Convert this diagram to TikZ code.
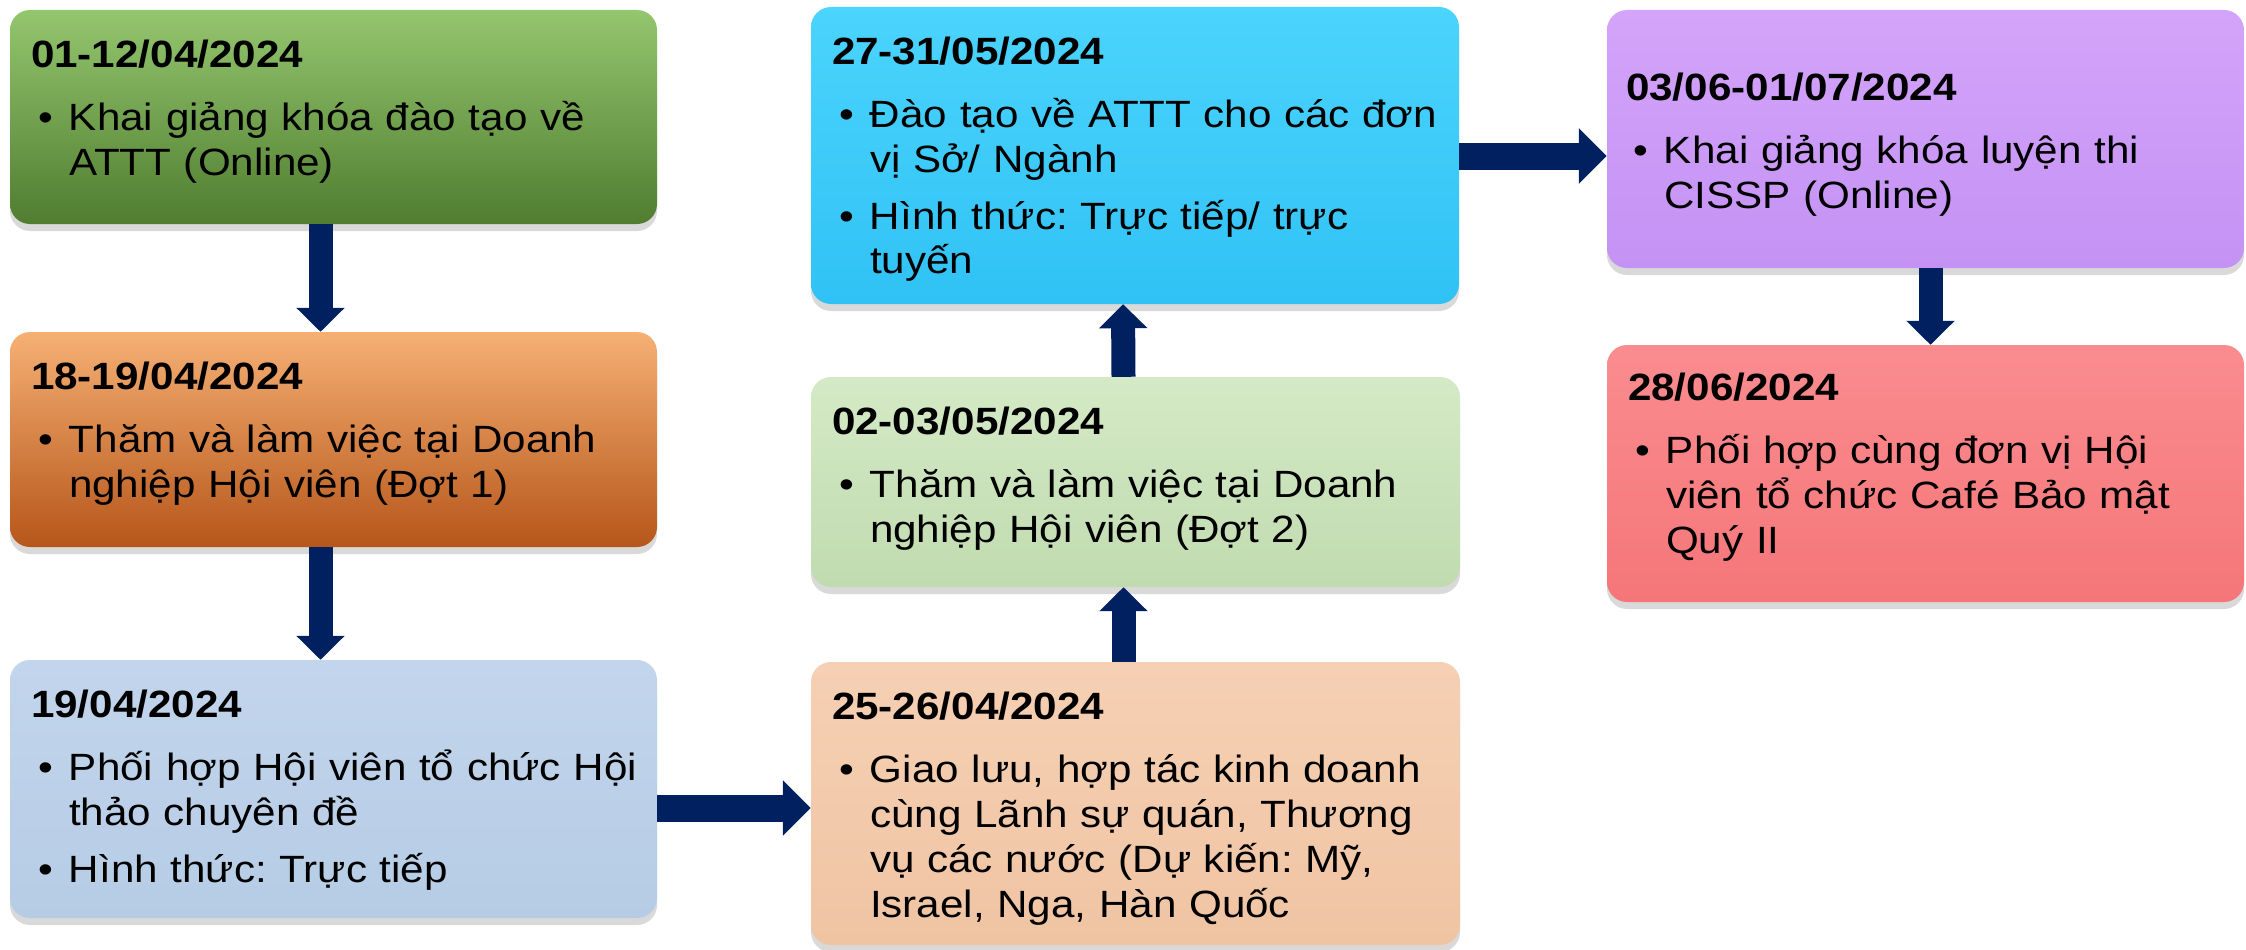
\documentclass[tikz,border=0pt]{standalone}
\usepackage{fontspec}
\setmainfont{Liberation Sans}[FakeStretch=1.11]
\usetikzlibrary{arrows.meta,shadows}

\definecolor{navy}{RGB}{0,32,96}
\definecolor{grnT}{RGB}{148,198,110}
\definecolor{grnM}{RGB}{110,162,68}
\definecolor{grnB}{RGB}{80,125,48}
\definecolor{orgT}{RGB}{246,176,116}
\definecolor{orgM}{RGB}{232,126,55}
\definecolor{orgB}{RGB}{182,86,26}
\definecolor{bluT}{RGB}{194,213,236}
\definecolor{bluB}{RGB}{182,204,229}
\definecolor{pchT}{RGB}{246,208,180}
\definecolor{pchB}{RGB}{239,196,163}
\definecolor{lgrT}{RGB}{212,234,198}
\definecolor{lgrB}{RGB}{193,219,176}
\definecolor{cyaT}{RGB}{75,212,252}
\definecolor{cyaB}{RGB}{48,194,245}
\definecolor{purT}{RGB}{212,164,250}
\definecolor{purB}{RGB}{196,146,244}
\definecolor{redT}{RGB}{250,140,143}
\definecolor{redB}{RGB}{245,118,121}

\newcommand{\body}{\fontsize{38}{45}\selectfont\raggedright\frenchspacing\lineskiplimit=-100pt}
\newcommand{\ttl}[1]{{\fontsize{38}{45}\selectfont\bfseries\rule{0pt}{40pt}#1\par}\vspace{6pt}}
\newcommand{\bul}{\par\vspace{12pt}\hangindent=38pt\hangafter=1\noindent\hspace*{7pt}\makebox[31pt][l]{\textbullet}}

\begin{document}
\begin{tikzpicture}[x=1pt,y=-1pt]
\tikzstyle{box} = [rectangle,rounded corners=20pt,inner sep=0pt,
  drop shadow={shadow xshift=0pt,shadow yshift=-7pt,opacity=0.3,fill=gray}]
\tikzstyle{txt} = [anchor=north west,inner sep=0pt,text width=640pt,font=\body]
\tikzstyle{arr} = [draw=navy,line width=24pt,-{Triangle[width=47pt,length=24pt]}]
\tikzstyle{harr} = [draw=navy,line width=27pt,-{Triangle[width=54pt,length=28pt]}]
\useasboundingbox (0,0) rectangle (2246,950);

%%%%%% Cot 1
\node[box,minimum width=647pt,minimum height=214pt,top color=grnT,middle color=grnM,bottom color=grnB] (A) at (333.5,117) {};
\node[txt] (tA) at ([xshift=21pt,yshift=-17pt]A.north west) {\ttl{01-12/04/2024}%
\bul Khai giảng khóa đào tạo về\newline ATTT (Online)\par};

\node[box,minimum width=647pt,minimum height=215pt,top color=orgT,middle color=orgM,bottom color=orgB] (B) at (333.5,439.5) {};
\node[txt] (tB) at ([xshift=21pt,yshift=-17pt]B.north west) {\ttl{18-19/04/2024}%
\bul Thăm và làm việc tại Doanh\newline nghiệp Hội viên (Đợt 1)\par};

\node[box,minimum width=647pt,minimum height=258pt,top color=bluT,bottom color=bluB] (C) at (333.5,789) {};
\node[txt] (tC) at ([xshift=21pt,yshift=-17pt]C.north west) {\ttl{19/04/2024}%
\bul Phối hợp Hội viên tổ chức Hội\newline thảo chuyên đề
\bul Hình thức: Trực tiếp\par};

%%%%%% Cot 2
\node[box,minimum width=649pt,minimum height=283pt,top color=pchT,bottom color=pchB] (D) at (1135.5,803.5) {};
\node[txt] (tD) at ([xshift=21pt,yshift=-17pt]D.north west) {\ttl{25-26/04/2024}%
\bul Giao lưu, hợp tác kinh doanh\newline cùng Lãnh sự quán, Thương\newline vụ các nước (Dự kiến: Mỹ,\newline Israel, Nga, Hàn Quốc\par};

\node[box,minimum width=649pt,minimum height=210pt,top color=lgrT,bottom color=lgrB] (E) at (1135.5,482) {};
\node[txt] (tE) at ([xshift=21pt,yshift=-17pt]E.north west) {\ttl{02-03/05/2024}%
\bul Thăm và làm việc tại Doanh\newline nghiệp Hội viên (Đợt 2)\par};

\node[box,minimum width=648pt,minimum height=297pt,top color=cyaT,bottom color=cyaB] (F) at (1135,155.5) {};
\node[txt] (tF) at ([xshift=21pt,yshift=-17pt]F.north west) {\ttl{27-31/05/2024}%
\bul Đào tạo về ATTT cho các đơn\newline vị Sở/ Ngành
\bul Hình thức: Trực tiếp/ trực\newline tuyến\par};

%%%%%% Cot 3
\node[box,minimum width=637pt,minimum height=258pt,top color=purT,bottom color=purB] (G) at (1925.5,139) {};
\node[txt] (tG) at ([xshift=19pt,yshift=-50pt]G.north west) {\ttl{03/06-01/07/2024}%
\bul Khai giảng khóa luyện thi\newline CISSP (Online)\par};

\node[box,minimum width=637pt,minimum height=257pt,top color=redT,bottom color=redB] (H) at (1925.5,473.5) {};
\node[txt] (tH) at ([xshift=21pt,yshift=-15pt]H.north west) {\ttl{28/06/2024}%
\bul Phối hợp cùng đơn vị Hội\newline viên tổ chức Café Bảo mật\newline Quý II\par};

%%%%%% Mui ten
\draw[arr] ([xshift=-13pt]A.south) -- ([xshift=-13pt]B.north);
\draw[arr] ([xshift=-13pt]B.south) -- ([xshift=-13pt]C.north);
\draw[harr] ([yshift=-19pt]C.east) -- ([yshift=-4.5pt]D.west);
\draw[arr] ([xshift=-12pt]D.north) -- ([xshift=-12pt]E.south);
\draw[arr] ([xshift=-12pt]E.north) -- ([xshift=-12pt]F.south);
\draw[harr] ([yshift=-0.5pt]F.east) -- ([yshift=-17pt]G.west);
\draw[arr] ([xshift=5pt]G.south) -- ([xshift=5pt]H.north);
\end{tikzpicture}
\end{document}
